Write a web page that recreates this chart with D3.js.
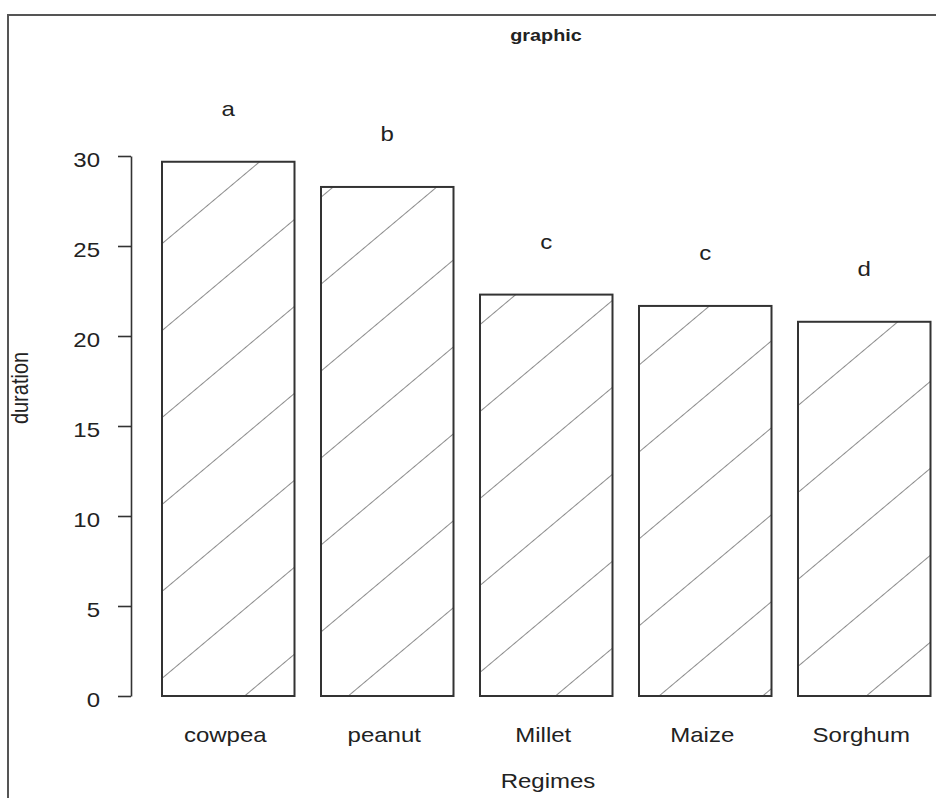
<!DOCTYPE html>
<html>
<head>
<meta charset="utf-8">
<script src="https://cdn.jsdelivr.net/npm/d3@7"></script>
<style>
  html, body { margin: 0; padding: 0; background: #fff; }
  svg { display: block; font-family: "Liberation Sans", Arial, Helvetica, sans-serif; }
</style>
</head>
<body>
<svg id="chart" width="936" height="798"></svg>
<script>
// Mean duration per regime, with significance group letters
const regimes = ["cowpea", "peanut", "Millet", "Maize", "Sorghum"];
const durations = [29.68, 28.28, 22.3, 21.67, 20.79];
const groups = ["a", "b", "c", "c", "d"];
const yTicks = [0, 5, 10, 15, 20, 25, 30];

const svg = d3.select("#chart");
const W = 936, H = 798;
const sx = 1.2; // horizontal stretch applied to all text

// outer frame
svg.append("rect")
  .attr("x", 8).attr("y", 15)
  .attr("width", W).attr("height", H)
  .attr("fill", "none").attr("stroke", "#555").attr("stroke-width", 2);

// scales
const x = d3.scaleBand()
  .domain(regimes)
  .range([162, 162 + 159 * (regimes.length - 1 / 6)])
  .paddingInner(1 / 6)
  .paddingOuter(0);

const y = d3.scaleLinear().domain([0, 30]).range([696, 156]);

// diagonal hatch fill (R-style shading lines)
const defs = svg.append("defs");
const gap = 66.6;
const pat = defs.append("pattern")
  .attr("id", "hatch")
  .attr("patternUnits", "userSpaceOnUse")
  .attr("width", 400)
  .attr("height", gap)
  .attr("patternTransform", `translate(247,694) rotate(-40) translate(0,${-gap / 2})`);
pat.append("line")
  .attr("x1", 0).attr("x2", 400)
  .attr("y1", gap / 2).attr("y2", gap / 2)
  .attr("stroke", "#8c8c8c").attr("stroke-width", 1.1);

// bars
svg.append("g").selectAll("rect")
  .data(regimes)
  .join("rect")
  .attr("x", d => x(d))
  .attr("y", (d, i) => y(durations[i]))
  .attr("width", x.bandwidth())
  .attr("height", (d, i) => y(0) - y(durations[i]))
  .attr("fill", "url(#hatch)")
  .attr("stroke", "#333")
  .attr("stroke-width", 2);

// group letters above bars
svg.append("g").selectAll("text")
  .data(regimes)
  .join("text")
  .attr("transform", (d, i) => `translate(${x(d) + x.bandwidth() / 2},${y(durations[i]) - 46}) scale(${sx},1)`)
  .attr("text-anchor", "middle")
  .attr("font-size", 20)
  .attr("fill", "#222")
  .text((d, i) => groups[i]);

// y axis
const yAxis = svg.append("g")
  .attr("transform", "translate(131,0)")
  .call(d3.axisLeft(y).tickValues(yTicks).tickSize(13).tickSizeOuter(0).tickPadding(18));
yAxis.select(".domain").attr("stroke", "#333").attr("stroke-width", 1.6);
yAxis.selectAll(".tick line").attr("stroke", "#333").attr("stroke-width", 1.6);
yAxis.selectAll(".tick text")
  .attr("x", null)
  .attr("dy", null)
  .attr("transform", `translate(-31,10) scale(${sx},1)`)
  .attr("font-size", 20)
  .attr("font-family", "Liberation Sans, Arial, sans-serif")
  .attr("fill", "#222");

// x category labels
svg.append("g").selectAll("text")
  .data(regimes)
  .join("text")
  .attr("transform", d => `translate(${x(d) + x.bandwidth() / 2 - 3},742) scale(${sx},1)`)
  .attr("text-anchor", "middle")
  .attr("font-size", 20)
  .attr("fill", "#222")
  .text(d => d);

// title
svg.append("text")
  .attr("transform", `translate(546,41) scale(${sx},1)`)
  .attr("text-anchor", "middle")
  .attr("font-size", 16.5)
  .attr("font-weight", "bold")
  .attr("fill", "#222")
  .text("graphic");

// axis titles
svg.append("text")
  .attr("transform", `translate(548,788) scale(${sx},1)`)
  .attr("text-anchor", "middle")
  .attr("font-size", 20)
  .attr("fill", "#222")
  .text("Regimes");

svg.append("text")
  .attr("transform", `translate(28,388) scale(${sx},1) rotate(-90)`)
  .attr("text-anchor", "middle")
  .attr("font-size", 20)
  .attr("fill", "#222")
  .text("duration");
</script>
</body>
</html>
